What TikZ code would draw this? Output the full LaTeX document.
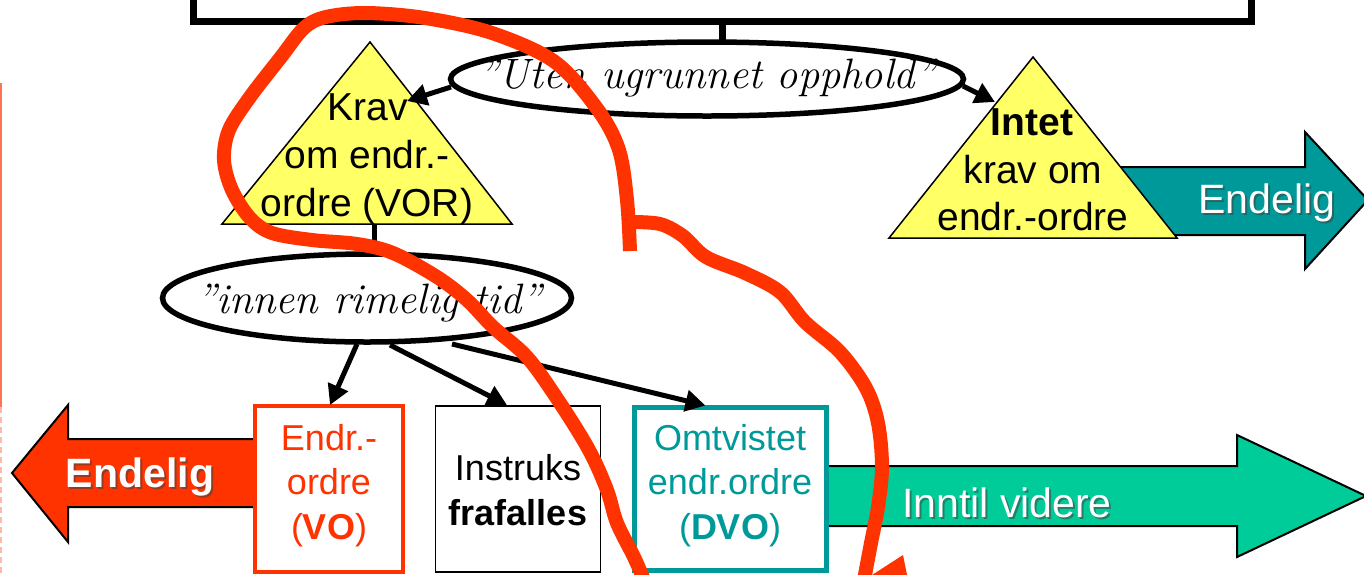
\documentclass[tikz,border=0pt]{standalone}
\usepackage{fontspec}
\setsansfont{Liberation Sans}
\usetikzlibrary{shapes.geometric,arrows.meta,calc}
\definecolor{ored}{HTML}{FF3300}
\definecolor{tealc}{HTML}{009999}
\definecolor{greenc}{HTML}{00CC99}
\definecolor{yelc}{HTML}{FFFF66}
\definecolor{lred}{HTML}{FF7355}
\definecolor{pinkc}{HTML}{FFB8A8}
\tikzset{
 conn/.style={line width=5pt, -{Triangle[length=20pt,width=21pt]}},
 ovalbox/.style={ellipse, draw, line width=5.5pt, fill=white, inner sep=0pt, outer sep=0pt},
 hand/.style={font=\fontsize{42.5}{50}\selectfont\rmfamily\itshape, inner sep=0pt, anchor=base},
 tri/.style={fill=yelc, draw=black, line width=1.5pt, line join=miter},
 tritext/.style={font=\fontsize{39}{47}\selectfont\sffamily, inner sep=0pt, anchor=base},
 boxtext/.style={font=\fontsize{36}{44}\selectfont\sffamily, inner sep=0pt, anchor=base},
 arrowtext/.style={font=\fontsize{41}{48}\selectfont\sffamily, inner sep=0pt, anchor=base, text=white},
 shadowtext/.style={font=\fontsize{41}{48}\selectfont\sffamily, inner sep=0pt, anchor=base, text=black!75, opacity=0.55},
 blockarrow/.style={draw=black, line width=2pt, line join=miter},
 rectbox/.style={fill=white, inner sep=0pt, outer sep=0pt},
 scribble/.style={draw=ored, line width=14pt, line cap=butt, line join=round},
}
\begin{document}
\begin{tikzpicture}[x=1pt,y=-1pt]
\useasboundingbox (0,0) rectangle (1364,574);
\fill[white] (0,0) rectangle (1364,574);

% left margin line
\draw[lred, line width=2pt] (1,83) -- (1,407);
\draw[pinkc, line width=2pt, dash pattern=on 6pt off 4pt] (1,407) -- (1,574);

% top box
\node[draw, line width=7pt, outer sep=0pt, inner sep=0pt, minimum width=1058pt, minimum height=90pt, anchor=south] (top) at (722,21) {};

% ellipse 1
\node[ovalbox, minimum width=513pt, minimum height=74pt] (e1) at (707,79) {};
\node[hand] (e1t) at (707,88) {”Uten ugrunnet opphold”};
\draw[line width=7pt] (top.south) -- (top.south |- e1.north);

% teal arrow (behind Intet triangle)
\draw[blockarrow, fill=tealc] (1100,167) -- (1305,167) -- (1305,132) -- (1368,200) -- (1305,269) -- (1305,235) -- (1100,235) -- cycle;
\node[shadowtext] (endRs) at (1269,215) {Endelig};
\node[arrowtext] (endR) at (1267,213) {Endelig};

% triangles
\draw[tri] (370,42) -- (512,224) -- (222,224) -- cycle;
\node[tritext] (kravA) at (368,120) {Krav};
\node[tritext] (kravB) at (367,168) {om endr.-};
\node[tritext] (kravC) at (367,216) {ordre (VOR)};
\coordinate (kravBase) at (374,224);
\coordinate (kravTip) at (407,101);

\draw[tri] (1033,57) -- (1177,238) -- (889,238) -- cycle;
\node[tritext, font=\fontsize{39}{47}\selectfont\sffamily\bfseries] (intA) at (1032,135) {Intet};
\node[tritext] (intB) at (1033,183) {krav om};
\node[tritext] (intC) at (1033,230) {endr.-ordre};
\coordinate (intTip) at (995,102);

% arrows from ellipse 1
\coordinate (e1L) at (451,87);
\coordinate (e1R) at (963,86);
\draw[conn] (e1L) -- (kravTip);
\draw[conn] (e1R) -- (intTip);

% ellipse 2
\node[ovalbox, minimum width=409pt, minimum height=88pt] (e2) at (367,298) {};
\node[hand] (e2t) at (369,313) {”innen rimelig tid”};
\draw[line width=5pt] (kravBase) -- (kravBase |- e2.north);

% left red arrow
\draw[blockarrow, fill=ored] (255,439) -- (68,439) -- (68,405) -- (12,473) -- (68,542) -- (68,507) -- (255,507) -- cycle;
\node[shadowtext, font=\fontsize{41}{48}\selectfont\sffamily\bfseries] (endLs) at (142,489) {Endelig};
\node[arrowtext, font=\fontsize{41}{48}\selectfont\sffamily\bfseries] (endL) at (140,487) {Endelig};

% green arrow
\draw[blockarrow, fill=greenc] (825,466) -- (1237,466) -- (1237,435) -- (1366,496) -- (1237,557) -- (1237,526) -- (825,526) -- cycle;
\node[shadowtext] (ivs) at (1009,519) {Inntil videre};
\node[arrowtext] (iv) at (1007,517) {Inntil videre};

% boxes
\node[rectbox, draw=ored, line width=4pt, minimum width=148pt, minimum height=166pt] (vo) at (329,489) {};
\node[boxtext, text=ored] (voA) at (329,450) {Endr.-};
\node[boxtext, text=ored] (voB) at (329,494) {ordre};
\node[boxtext, text=ored] (voC) at (329,539) {(\textbf{VO})};

\node[rectbox, draw=black, line width=1.5pt, minimum width=165pt, minimum height=166pt] (ins) at (518,489) {};
\node[boxtext] (insA) at (518,480) {Instruks};
\node[boxtext, font=\fontsize{36}{44}\selectfont\sffamily\bfseries] (insB) at (518,525) {frafalles};

\node[rectbox, draw=tealc, line width=5pt, minimum width=192pt, minimum height=163pt] (dvo) at (730.5,489) {};
\node[boxtext, text=tealc] (dvoA) at (730,450) {Omtvistet};
\node[boxtext, text=tealc] (dvoB) at (730,494) {endr.ordre};
\node[boxtext, text=tealc] (dvoC) at (730,539) {(\textbf{DVO})};

% arrows from ellipse 2
\coordinate (s1) at (357,344);
\coordinate (s2) at (390,345);
\coordinate (s3) at (452,344);
\draw[conn] (s1) -- ($(vo.north)+(1,-1)$);
\draw[conn] (s2) -- ($(ins.north)+(-11,-1)$);
\draw[conn] (s3) -- ($(dvo.north)+(-25,-2)$);

% red freehand annotation
\draw[scribble] plot[smooth, tension=0.55] coordinates {
 (630,251) (627,200) (619,150) (598,110) (555,62) (492,33) (425,18) (366,13) (326,17) (304,28) (281,57) (250,97) (229,130) (224,160) (232,190) (250,218) (272,233) (312,240) (357,244) (393,253) (437,277) (467,300) (493,327) (527,357) (558,400) (589,450) (607,490) (617,523) (634,557) (644,580)};
\draw[scribble] plot[smooth, tension=0.55] coordinates {
 (630,222) (660,224) (683,236) (706,257) (745,273) (780,292) (805,322) (840,352) (866,388) (878,423) (882,467) (878,507) (871,543) (864,580)};
\fill[ored] (903,555) -- (872,575) -- (907,575) -- cycle;
\end{tikzpicture}
\end{document}
